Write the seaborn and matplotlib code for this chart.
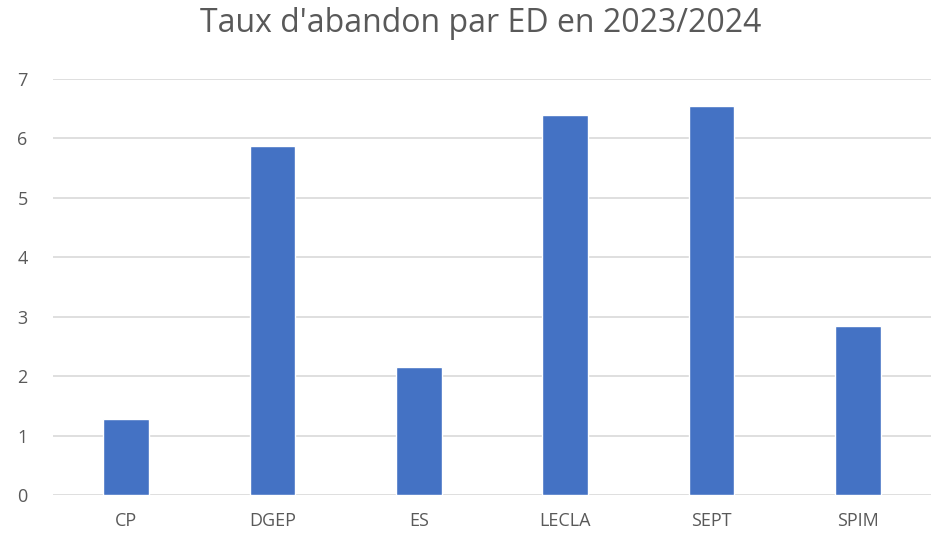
import matplotlib
matplotlib.use("Agg")
import matplotlib.pyplot as plt
import seaborn as sns
import pandas as pd

categories = ["CP", "DGEP", "ES", "LECLA", "SEPT", "SPIM"]
values = [1.28, 5.87, 2.15, 6.39, 6.54, 2.84]
yticks = [0, 1, 2, 3, 4, 5, 6, 7]
title = "Taux d'abandon par ED en 2023/2024"

sns.set_theme(style="white")
plt.rcParams['font.family'] = ['Open Sans', 'DejaVu Sans']

df = pd.DataFrame({"ED": categories, "Taux": values})

fig = plt.figure(figsize=(9.32, 5.37), dpi=100)
ax = fig.add_axes([53/932, 1-495/537, (931-53)/932, (495-78.7)/537])
sns.barplot(data=df, x="ED", y="Taux", color="#4472C4", width=0.31,
            saturation=1, ax=ax, zorder=3)
ax.set_ylim(0, 7)
ax.set_xlim(-0.5, 5.5)
ax.set_yticks(yticks)
ax.yaxis.grid(True, color="#D9D9D9", linewidth=1.2, zorder=0)
ax.set_axisbelow(True)
for s in ax.spines.values():
    s.set_visible(False)
ax.set_xlabel("")
ax.set_ylabel("")
ax.tick_params(axis="both", length=0, labelsize=13, colors="#595959")
ax.tick_params(axis="x", pad=12)
ax.tick_params(axis="y", pad=22)
for lbl in ax.get_yticklabels():
    lbl.set_horizontalalignment("center")
fig.text(481/932, 1-23/537, title, ha="center", va="center", fontsize=23, color="#595959")
fig.savefig("out.png", dpi=100)
